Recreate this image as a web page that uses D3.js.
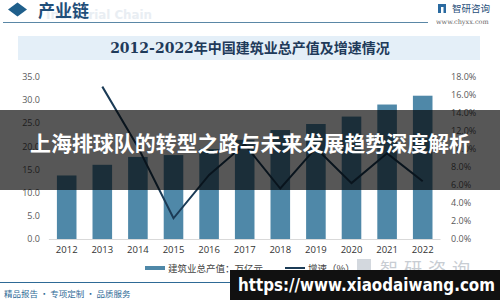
<!DOCTYPE html>
<html><head><meta charset="utf-8">
<script src="https://cdn.jsdelivr.net/npm/d3@7"></script>
<style>html,body{margin:0;padding:0;background:#fff;}svg{display:block;}</style>
</head><body>
<script>
const years = ["2012","2013","2014","2015","2016","2017","2018","2019","2020","2021","2022"];
const output = [13.7,16.0,17.7,18.1,19.4,21.4,23.5,24.8,26.4,29.0,30.9];
const growth = [null,16.9,10.2,2.3,7.1,10.5,5.6,10.1,6.2,9.5,6.4];
const leftTicks = [0,5,10,15,20,25,30,35];
const rightTicks = [0,2,4,6,8,10,12,14,16,18];
const chartTitle = "2012-2022年中国建筑业总产值及增速情况";
const legendLabels = ["建筑业总产值：万亿元","增速（%）"];
const overlayTitle = "上海排球队的转型之路与未来发展趋势深度解析";
const urlText = "https://www.xiaodaiwang.com";

const W=500,H=300;
const svg=d3.select("body").append("svg").attr("width",W).attr("height",H);
const CJK="'Noto Sans CJK SC','Noto Sans',sans-serif";

// header
svg.append("path").attr("d","M8,9.5 L17.5,2.5 L27,9.5 L17.5,16.5 Z").attr("fill","#1f5f8b");
svg.append("text").attr("x",46).attr("y",19).text("Industrial Chain")
  .attr("font-family","'DejaVu Sans',sans-serif").attr("font-weight","bold").attr("font-size",12)
  .attr("textLength",106).attr("lengthAdjust","spacingAndGlyphs").attr("fill","#e9eef3");
svg.append("text").attr("x",38).attr("y",17).text("产业链")
  .attr("font-family",CJK).attr("font-weight","bold").attr("font-size",17).attr("fill","#1f4e79");
svg.append("line").attr("x1",3).attr("x2",428).attr("y1",22.5).attr("y2",22.5).attr("stroke","#5a87a6").attr("stroke-width",1.2);
svg.append("rect").attr("x",438).attr("y",4).attr("width",8).attr("height",9).attr("fill","#2a6aa0");
svg.append("rect").attr("x",441).attr("y",7).attr("width",2.5).attr("height",6).attr("fill","#fff");
svg.append("text").attr("x",452).attr("y",12).text("智研咨询")
  .attr("font-family",CJK).attr("font-size",9.5).attr("fill","#1f4e79");
svg.append("text").attr("x",436).attr("y",24).text("www.chyxx.com")
  .attr("font-family","'DejaVu Serif',serif").attr("font-size",6.5).attr("fill","#666");

// title box
svg.append("rect").attr("x",18).attr("y",36).attr("width",462).attr("height",24).attr("fill","#e4eff8");
svg.append("text").attr("x",250).attr("y",48).attr("text-anchor","middle").attr("dominant-baseline","central")
  .text(chartTitle).attr("font-family","'DejaVu Serif','Noto Sans CJK SC',serif").attr("font-weight","bold")
  .attr("font-size",14).attr("fill","#1f3a5a");

// scales
const x=d3.scaleBand().domain(years).range([48.9,440.5]).paddingInner(0.45).paddingOuter(0.225);
const yL=d3.scaleLinear().domain([0,35]).range([239,76.7]);
const yR=d3.scaleLinear().domain([0,18]).range([239,76.7]);

// axes
const gL=svg.append("g").attr("transform","translate(46,0)")
  .call(d3.axisLeft(yL).tickValues(leftTicks).tickFormat(d3.format(".1f")).tickSize(0).tickPadding(6));
const gR=svg.append("g").attr("transform","translate(445,0)")
  .call(d3.axisRight(yR).tickValues(rightTicks).tickFormat(d=>d.toFixed(1)+"%").tickSize(0).tickPadding(6));
const gX=svg.append("g").attr("transform","translate(0,239)")
  .call(d3.axisBottom(x).tickSize(0).tickPadding(7));
[gL,gR,gX].forEach(g=>{g.select(".domain").remove();
  g.selectAll("text").attr("font-family","'Open Sans','DejaVu Sans',sans-serif").attr("font-size",9).attr("fill","#595959");});
gX.selectAll("text").attr("fill","#333").attr("font-size",9.5);
svg.append("line").attr("x1",48.9).attr("x2",440.5).attr("y1",239.5).attr("y2",239.5).attr("stroke","#d9d9d9");

// bars
svg.append("g").selectAll("rect").data(output).join("rect")
  .attr("x",(d,i)=>x(years[i])).attr("width",x.bandwidth())
  .attr("y",d=>yL(d)).attr("height",d=>yL(0)-yL(d)).attr("fill","#4f88a8");

// line
const line=d3.line().defined(d=>d!=null).x((d,i)=>x(years[i])+x.bandwidth()/2).y(d=>yR(d));
svg.append("path").datum(growth).attr("d",line).attr("fill","none").attr("stroke","#1b3b56").attr("stroke-width",2);

// legend
svg.append("rect").attr("x",145).attr("y",266).attr("width",20).attr("height",4).attr("fill","#4f88a8");
svg.append("text").attr("x",168).attr("y",268).attr("dominant-baseline","central").text(legendLabels[0])
  .attr("font-family",CJK).attr("font-size",9.5).attr("fill","#444");
svg.append("line").attr("x1",285).attr("x2",305).attr("y1",268).attr("y2",268).attr("stroke","#1b3b56").attr("stroke-width",2);
svg.append("text").attr("x",308).attr("y",268).attr("dominant-baseline","central").text(legendLabels[1])
  .attr("font-family",CJK).attr("font-size",9.5).attr("fill","#444");

// faint logo watermark
svg.append("rect").attr("x",357).attr("y",259).attr("width",14).attr("height",16).attr("fill","#d3d8de");
svg.append("text").attr("x",380).attr("y",276).text("智研咨询")
  .attr("font-family",CJK).attr("font-size",18).attr("letter-spacing",6).attr("fill","#c8cdd3");

// footer
svg.append("line").attr("x1",0).attr("x2",232).attr("y1",282.5).attr("y2",282.5).attr("stroke","#2e6a96").attr("stroke-width",1.2);
svg.append("text").attr("x",4).attr("y",293).attr("dominant-baseline","central").text("精品报告 · 专项定制 · 品质服务")
  .attr("font-family",CJK).attr("font-size",8.5).attr("fill","#2e6a96");

// overlay band
svg.append("rect").attr("x",0).attr("y",110).attr("width",W).attr("height",80).attr("fill","rgba(0,0,0,0.66)");
svg.append("text").attr("x",30).attr("y",142).attr("dominant-baseline","central")
  .text(overlayTitle).attr("font-family",CJK).attr("font-weight","bold").attr("font-size",21)
  .attr("textLength",440).attr("lengthAdjust","spacingAndGlyphs").attr("fill","#fff");

// url box
svg.append("rect").attr("x",230).attr("y",270).attr("width",270).attr("height",30).attr("fill","#111");
svg.append("text").attr("x",238).attr("y",285).attr("dominant-baseline","central").text(urlText)
  .attr("font-family","'DejaVu Sans',sans-serif").attr("font-weight","bold").attr("font-size",17)
  .attr("textLength",257).attr("lengthAdjust","spacingAndGlyphs").attr("fill","#fff");
</script>
</body></html>
